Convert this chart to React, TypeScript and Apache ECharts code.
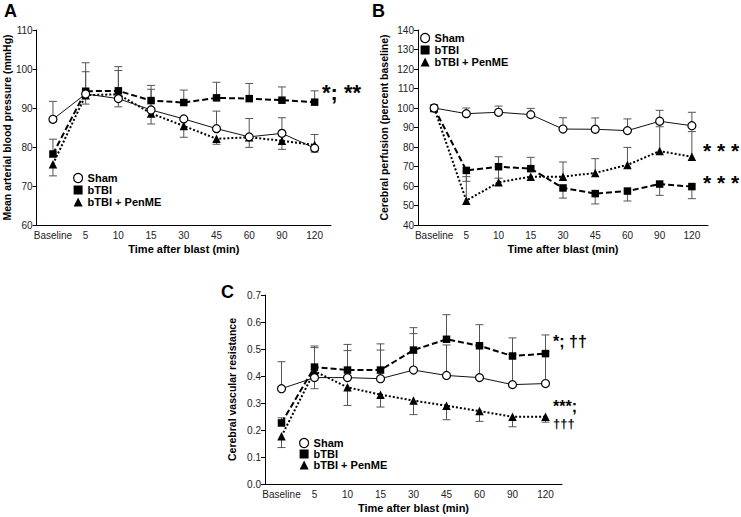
import React, { useEffect, useRef } from 'react';
import * as echarts from 'echarts';

const categories = ['Baseline', '5', '10', '15', '30', '45', '60', '90', '120'];
const seriesNames = ['Sham', 'bTBI', 'bTBI + PenME'];

// Panel A: Mean arterial blood pressure (mmHg)
const shamA = [87.1, 93.6, 92.4, 89.5, 87.2, 84.7, 82.6, 83.5, 79.7];
const shamAHi = [91.7, 99.3, null, 94.8, null, 89.2, 87.3, 87.5, null];
const shamALo = [null, null, 90.3, null, null, null, null, null, 78.7];
const tbiA = [78.2, 94.3, 94.4, 91.9, 91.4, 92.6, 92.4, 92.0, 91.5];
const tbiAHi = [82.0, 101.6, 100.6, 95.8, 94.6, 96.6, 96.3, 95.4, 94.4];
const tbiALo = [null, null, null, null, null, null, null, null, null];
const penA = [75.6, 93.3, 93.5, 88.6, 85.4, 82.1, 82.5, 81.6, 80.5];
const penAHi = [null, null, 99.6, null, null, null, null, null, 83.2];
const penALo = [72.6, 91.0, null, 85.9, 82.5, 80.7, 79.9, 79.4, null];

// Panel B: Cerebral perfusion (percent baseline)
const shamB = [100, 97.1, 97.8, 96.6, 89.2, 89.1, 88.4, 93.2, 90.9];
const shamBHi = [null, 100, 101, 99.8, 95.0, 94.9, 94.4, 98.8, 97.8];
const shamBLo = [null, null, null, null, null, null, null, null, null];
const tbiB = [100, 68.0, 69.9, 68.9, 59.0, 56.1, 57.4, 61.0, 59.7];
const tbiBHi = [null, null, 75.0, 74.7, null, null, null, null, null];
const tbiBLo = [null, 62.4, 64.0, null, 53.8, 50.8, 52.3, 55.2, 53.5];
const penB = [100, 52.5, 61.9, 64.8, 64.8, 66.7, 70.8, 77.9, 75.0];
const penBHi = [null, 64.8, null, null, 72.3, 74.0, 79.8, 90.4, 87.9];
const penBLo = [null, null, null, null, null, null, null, null, null];

// Panel C: Cerebral vascular resistance
const shamC = [0.353, 0.394, 0.394, 0.39, 0.422, 0.402, 0.394, 0.368, 0.372];
const shamCHi = [0.453, 0.505, 0.494, 0.496, 0.557, 0.515, 0.51, 0.48, 0.49];
const shamCLo = [null, 0.353, null, null, null, null, null, null, null];
const tbiC = [0.226, 0.433, 0.422, 0.422, 0.496, 0.536, 0.512, 0.474, 0.483];
const tbiCHi = [0.245, 0.511, 0.517, 0.519, 0.579, 0.627, 0.59, 0.541, 0.552];
const tbiCLo = [null, null, null, null, null, null, null, null, null];
const penC = [0.177, 0.418, 0.358, 0.331, 0.309, 0.29, 0.27, 0.249, 0.249];
const penCHi = [null, null, null, null, null, null, null, null, null];
const penCLo = [0.135, null, 0.291, 0.285, 0.257, 0.238, 0.232, 0.212, 0.229];

const FONT = '"Liberation Sans", Arial, Helvetica, sans-serif';

function errSeries(gi: number, vals: number[], hi: (number | null)[], lo: (number | null)[]) {
  return {
    type: 'custom',
    name: 'err',
    xAxisIndex: gi,
    yAxisIndex: gi,
    z: 1,
    silent: true,
    clip: false,
    encode: { x: 0, y: 1 },
    data: vals.map((v, i) => [i, v, hi[i] == null ? v : hi[i], lo[i] == null ? v : lo[i]]),
    renderItem: (params: any, api: any) => {
      const x = api.value(0);
      const v = api.value(1);
      const h = api.value(2);
      const l = api.value(3);
      const pv = api.coord([x, v]);
      const ph = api.coord([x, h]);
      const pl = api.coord([x, l]);
      const st = { stroke: '#555', lineWidth: 1 };
      const children: any[] = [];
      const cap = 4;
      if (h !== v) {
        children.push({ type: 'line', shape: { x1: pv[0], y1: pv[1], x2: ph[0], y2: ph[1] }, style: st });
        children.push({ type: 'line', shape: { x1: ph[0] - cap, y1: ph[1], x2: ph[0] + cap, y2: ph[1] }, style: st });
      }
      if (l !== v) {
        children.push({ type: 'line', shape: { x1: pv[0], y1: pv[1], x2: pl[0], y2: pl[1] }, style: st });
        children.push({ type: 'line', shape: { x1: pl[0] - cap, y1: pl[1], x2: pl[0] + cap, y2: pl[1] }, style: st });
      }
      return { type: 'group', children };
    },
  };
}

function lineSeries(gi: number, kind: number, vals: number[]) {
  const base: any = {
    type: 'line',
    name: seriesNames[kind],
    xAxisIndex: gi,
    yAxisIndex: gi,
    data: vals,
    z: 3,
    clip: false,
  };
  if (kind === 0) {
    base.symbol = 'circle';
    base.symbolSize = 8;
    base.itemStyle = { color: '#fff', borderColor: '#000', borderWidth: 1.2 };
    base.lineStyle = { color: '#111', width: 1 };
    base.z = 4;
  } else if (kind === 1) {
    base.symbol = 'rect';
    base.symbolSize = 7.5;
    base.itemStyle = { color: '#000' };
    base.lineStyle = { color: '#000', width: 2, type: [6, 3] };
  } else {
    base.symbol = 'triangle';
    base.symbolSize = 8.5;
    base.itemStyle = { color: '#000' };
    base.lineStyle = { color: '#000', width: 2, type: [2, 2] };
  }
  return base;
}

function xAxis(gi: number) {
  return {
    type: 'category',
    gridIndex: gi,
    data: categories,
    boundaryGap: true,
    axisLine: { lineStyle: { color: '#000', width: 1 } },
    axisTick: { alignWithLabel: true, interval: 0, length: 4, lineStyle: { color: '#000' } },
    axisLabel: { interval: 0, fontSize: 10, color: '#222', margin: 5, fontFamily: FONT },
    name: 'Time after blast (min)',
    nameLocation: 'middle',
    nameGap: 18,
    nameTextStyle: { fontSize: 11, fontWeight: 'bold', color: '#000', fontFamily: FONT },
  };
}

function yAxis(gi: number, min: number, max: number, interval: number, name: string, gap: number, fmt?: (v: number) => string) {
  return {
    type: 'value',
    gridIndex: gi,
    min,
    max,
    interval,
    splitLine: { show: false },
    axisLine: { show: true, lineStyle: { color: '#000', width: 1 } },
    axisTick: { show: true, length: 4, lineStyle: { color: '#000' } },
    axisLabel: { fontSize: 10, color: '#222', margin: 4, fontFamily: FONT, formatter: fmt },
    name,
    nameLocation: 'middle',
    nameRotate: 90,
    nameGap: gap,
    nameTextStyle: { fontSize: 10.5, fontWeight: 'bold', color: '#000', fontFamily: FONT },
  };
}

function legend(left: number, top: number, gap: number) {
  return {
    orient: 'vertical',
    left,
    top,
    padding: 0,
    itemGap: gap,
    itemWidth: 9,
    itemHeight: 9,
    selectedMode: false,
    textStyle: { fontSize: 11, fontWeight: 'bold', color: '#000', fontFamily: FONT, lineHeight: 12 },
    data: [
      { name: 'Sham', icon: 'circle', itemStyle: { color: '#fff', borderColor: '#000', borderWidth: 1.2 } },
      { name: 'bTBI', icon: 'rect', itemStyle: { color: '#000', borderWidth: 0 } },
      { name: 'bTBI + PenME', icon: 'triangle', itemStyle: { color: '#000', borderWidth: 0 } },
    ],
  };
}

function label(text: string, x: number, y: number, size: number, lineHeight?: number) {
  return {
    type: 'text',
    x,
    y,
    style: {
      text,
      fontSize: size,
      fontWeight: 'bold',
      fill: '#000',
      fontFamily: FONT,
      textVerticalAlign: 'top',
      lineHeight: lineHeight || size,
    },
  };
}

export default function App() {
  const ref = useRef<HTMLDivElement>(null);
  useEffect(() => {
    if (!ref.current) return;
    const chart = echarts.init(ref.current, undefined, { renderer: 'svg' });
    const option: any = {
      animation: false,
      backgroundColor: '#fff',
      grid: [
        { left: 36, top: 30, width: 295, height: 195 },
        { left: 418, top: 30, width: 290, height: 195 },
        { left: 265, top: 295, width: 297, height: 189 },
      ],
      xAxis: [xAxis(0), xAxis(1), xAxis(2)],
      yAxis: [
        yAxis(0, 60, 110, 10, 'Mean arterial blood pressure (mmHg)', 23),
        yAxis(1, 40, 140, 10, 'Cerebral perfusion (percent baseline)', 29),
        yAxis(2, 0, 0.7, 0.1, 'Cerebral vascular resistance', 28, (v: number) => v.toFixed(1)),
      ],
      legend: [legend(73, 172, 0), legend(420, 32, 0), legend(299, 437, -1)],
      series: [
        errSeries(0, shamA, shamAHi, shamALo),
        errSeries(0, tbiA, tbiAHi, tbiALo),
        errSeries(0, penA, penAHi, penALo),
        errSeries(1, shamB, shamBHi, shamBLo),
        errSeries(1, tbiB, tbiBHi, tbiBLo),
        errSeries(1, penB, penBHi, penBLo),
        errSeries(2, shamC, shamCHi, shamCLo),
        errSeries(2, tbiC, tbiCHi, tbiCLo),
        errSeries(2, penC, penCHi, penCLo),
        lineSeries(0, 0, shamA),
        lineSeries(0, 1, tbiA),
        lineSeries(0, 2, penA),
        lineSeries(1, 0, shamB),
        lineSeries(1, 1, tbiB),
        lineSeries(1, 2, penB),
        lineSeries(2, 0, shamC),
        lineSeries(2, 1, tbiC),
        lineSeries(2, 2, penC),
      ],
      graphic: [
        label('A', 4, 2, 18),
        label('B', 372, 2, 18),
        label('C', 221, 283, 18),
        label('*; **', 322, 81, 22),
        label('* * *', 703, 140, 21),
        label('* * *', 703, 172, 21),
        label('*; ††', 553, 333, 16),
        label('***;', 553, 398, 16, 16),
        label('†††', 553, 417, 13, 13),
      ],
    };
    chart.setOption(option);
    return () => chart.dispose();
  }, []);
  return <div ref={ref} style={{ position: 'absolute', left: 0, top: 0, width: 741, height: 517 }} />;
}
